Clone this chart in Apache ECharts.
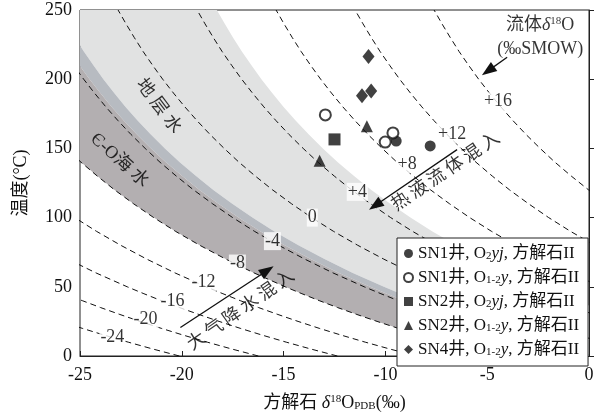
<!DOCTYPE html>
<html><head><meta charset="utf-8">
<script src="https://cdn.jsdelivr.net/npm/echarts/dist/echarts.min.js"></script>
<style>html,body{margin:0;padding:0;background:#fff}#c{width:601px;height:417px}</style>
</head><body><div id="c"></div>
<script>
// ---- data ----
const xTicks = [-25,-20,-15,-10,-5,0];
const yTicks = [0,50,100,150,200,250];

// fluid δ18O (‰SMOW) isolines: [calcite δ18O PDB, temperature °C]
const curveNames = ['-24','-20','-16','-12','-8','-4','0','+4','+8','+12','+16'];
const cM24 = [[-20.12,0],[-21.41,5],[-22.63,10],[-23.79,15],[-24.89,20],[-25.93,25]];
const cM20 = [[-16.24,0],[-17.53,5],[-18.75,10],[-19.91,15],[-21.01,20],[-22.05,25],[-23.04,30],[-23.99,35],[-24.89,40],[-25.74,45]];
const cM16 = [[-12.36,0],[-13.65,5],[-14.87,10],[-16.03,15],[-17.13,20],[-18.17,25],[-19.16,30],[-20.11,35],[-21.01,40],[-21.86,45],[-22.68,50],[-24.21,60],[-25.60,70]];
const cM12 = [[-8.48,0],[-9.77,5],[-10.99,10],[-12.15,15],[-13.25,20],[-14.29,25],[-15.28,30],[-16.23,35],[-17.13,40],[-17.98,45],[-18.80,50],[-20.33,60],[-21.72,70],[-23.00,80],[-24.18,90],[-25.26,100]];
const cM8 = [[-4.60,0],[-5.89,5],[-7.11,10],[-8.27,15],[-9.37,20],[-10.41,25],[-11.40,30],[-12.35,35],[-13.25,40],[-14.10,45],[-14.92,50],[-16.45,60],[-17.84,70],[-19.12,80],[-20.30,90],[-21.38,100],[-22.37,110],[-23.30,120],[-24.15,130],[-24.95,140],[-25.68,150]];
const cM4 = [[-0.72,0],[-2.01,5],[-3.23,10],[-4.39,15],[-5.49,20],[-6.53,25],[-7.52,30],[-8.47,35],[-9.37,40],[-10.22,45],[-11.04,50],[-12.57,60],[-13.96,70],[-15.24,80],[-16.42,90],[-17.50,100],[-18.49,110],[-19.42,120],[-20.27,130],[-21.07,140],[-21.80,150],[-22.49,160],[-23.13,170],[-23.73,180],[-24.29,190],[-24.82,200],[-25.31,210]];
const c0 = [[0.65,10],[-0.51,15],[-1.61,20],[-2.65,25],[-3.64,30],[-4.59,35],[-5.49,40],[-6.34,45],[-7.16,50],[-8.69,60],[-10.08,70],[-11.36,80],[-12.54,90],[-13.62,100],[-14.61,110],[-15.54,120],[-16.39,130],[-17.19,140],[-17.92,150],[-18.61,160],[-19.25,170],[-19.85,180],[-20.41,190],[-20.94,200],[-21.43,210],[-21.90,220],[-22.33,230],[-22.74,240],[-23.13,250]];
const cP4 = [[3.37,15],[2.27,20],[1.23,25],[0.24,30],[-0.71,35],[-1.61,40],[-2.46,45],[-3.28,50],[-4.81,60],[-6.20,70],[-7.48,80],[-8.66,90],[-9.74,100],[-10.73,110],[-11.66,120],[-12.51,130],[-13.31,140],[-14.04,150],[-14.73,160],[-15.37,170],[-15.97,180],[-16.53,190],[-17.06,200],[-17.55,210],[-18.02,220],[-18.45,230],[-18.86,240],[-19.25,250]];
const cP8 = [[1.42,45],[0.60,50],[-0.93,60],[-2.32,70],[-3.60,80],[-4.78,90],[-5.86,100],[-6.85,110],[-7.78,120],[-8.63,130],[-9.43,140],[-10.16,150],[-10.85,160],[-11.49,170],[-12.09,180],[-12.65,190],[-13.18,200],[-13.67,210],[-14.14,220],[-14.57,230],[-14.98,240],[-15.37,250]];
const cP12 = [[1.56,70],[0.28,80],[-0.90,90],[-1.98,100],[-2.97,110],[-3.90,120],[-4.75,130],[-5.55,140],[-6.28,150],[-6.97,160],[-7.61,170],[-8.21,180],[-8.77,190],[-9.30,200],[-9.79,210],[-10.26,220],[-10.69,230],[-11.10,240],[-11.49,250]];
const cP16 = [[0.91,110],[-0.02,120],[-0.87,130],[-1.67,140],[-2.40,150],[-3.09,160],[-3.73,170],[-4.33,180],[-4.89,190],[-5.42,200],[-5.91,210],[-6.38,220],[-6.81,230],[-7.22,240],[-7.61,250]];
const curves = [cM24,cM20,cM16,cM12,cM8,cM4,c0,cP4,cP8,cP12,cP16];
// label anchor of each isoline
const curveLabelPos = [[-23.41,13.5],[-21.78,26.3],[-20.46,39.8],[-18.94,53.3],[-17.27,66.8],[-15.55,83],[-13.59,100],[-11.38,118.6],[-8.93,138.5],[-6.72,160],[-4.47,184]];

// band boundaries
const formationTop = [[3.24,20],[2.20,25],[1.21,30],[0.26,35],[-0.64,40],[-1.49,45],[-2.31,50],[-3.84,60],[-5.23,70],[-6.51,80],[-7.69,90],[-8.77,100],[-9.76,110],[-10.69,120],[-11.54,130],[-12.34,140],[-13.07,150],[-13.76,160],[-14.40,170],[-15.00,180],[-15.56,190],[-16.09,200],[-16.58,210],[-17.05,220],[-17.48,230],[-17.89,240],[-18.28,250]];
const formationBottom = [[0.25,0],[-1.04,5],[-2.26,10],[-3.42,15],[-4.52,20],[-5.56,25],[-6.55,30],[-7.50,35],[-8.40,40],[-9.25,45],[-10.07,50],[-11.60,60],[-12.99,70],[-14.27,80],[-15.45,90],[-16.53,100],[-17.52,110],[-18.45,120],[-19.30,130],[-20.10,140],[-20.83,150],[-21.52,160],[-22.16,170],[-22.76,180],[-23.32,190],[-23.85,200],[-24.34,210],[-24.81,220],[-25.24,230],[-25.65,240],[-26.04,250]];
const seawaterTop = [[-0.43,0],[-1.72,5],[-2.94,10],[-4.10,15],[-5.20,20],[-6.24,25],[-7.23,30],[-8.18,35],[-9.08,40],[-9.93,45],[-10.75,50],[-12.28,60],[-13.67,70],[-14.95,80],[-16.13,90],[-17.21,100],[-18.20,110],[-19.13,120],[-19.98,130],[-20.78,140],[-21.51,150],[-22.20,160],[-22.84,170],[-23.44,180],[-24.00,190],[-24.53,200],[-25.02,210],[-25.49,220],[-25.92,230],[-26.33,240],[-26.72,250]];
const seawaterBottom = cM8;

// samples: [δ18O PDB, T °C]
const seriesNames = ['SN1井, O2yj, 方解石II','SN1井, O1-2y, 方解石II','SN2井, O2yj, 方解石II','SN2井, O1-2y, 方解石II','SN4井, O1-2y, 方解石II'];
const sn1O2yj = [[-9.47,155.3],[-7.80,151.8]];
const sn1O12y = [[-12.95,174.2],[-9.63,161.2],[-10.01,154.6]];
const sn2O2yj = [[-12.50,156.5]];
const sn2O12y = [[-10.91,166],[-13.23,141.1]];
const sn4O12y = [[-10.83,216.4],[-11.15,188],[-10.70,191.5]];

// annotations
const annTexts = ['地 层 水','Є-O海 水','热\u2009液\u2009流\u2009体\u2009混\u2009入','大\u2009气\u2009降\u2009水\u2009混\u2009入','流体{i|δ}{sup|18}O','(‰SMOW)'];
const annPos = [[-21.15,180.4],[-23.06,141.3],[-7.02,132.8],[-17.08,32.7],[-2.40,239.3],[-2.40,221.6]];
const annRot = [-53,-42,34,35,0,0];
const arrows = [
  [[-6.48,149.1],[-10.50,108.7]],
  [[-20.07,20.6],[-15.80,61.8]],
  [[-4.02,215.9],[-4.96,206.0]]
];

// ---- chart ----
const SERIF = "'Liberation Serif','Noto Sans CJK SC',serif";
const chart = echarts.init(document.getElementById('c'), null, {renderer:'canvas'});

function band(upper, lower, color){
  return {type:'custom', coordinateSystem:'cartesian2d', clip:true, silent:true, z:1,
    data:[[-12,125]],
    renderItem:function(params, api){
      const pts = upper.map(p=>api.coord(p)).concat(lower.slice().reverse().map(p=>api.coord(p)));
      return {type:'polygon', shape:{points:pts}, style:{fill:color, stroke:null}};
    }};
}

const series = [];
series.push(band(formationTop, formationBottom, '#e1e2e2'));
series.push(band(formationBottom, seawaterTop, '#b7bbc1'));
series.push(band(seawaterTop, seawaterBottom, '#b3afb1'));

curves.forEach((c,i)=>{
  series.push({type:'line', name:'iso'+curveNames[i], data:c, showSymbol:false, symbol:'none', clip:true, silent:true, z:2,
    lineStyle:{color:'#111', width:1, type:[6,4]}});
});

series.push({type:'scatter', name:'isoLabels', silent:true, z:3, symbolSize:1, itemStyle:{color:'rgba(0,0,0,0)'},
  data: curveLabelPos.map((p,i)=>({value:p, name:curveNames[i]})),
  label:{show:true, position:'inside', formatter:'{b}', color:'#000', textBorderWidth:0, fontFamily:SERIF, fontSize:18,
    backgroundColor:'#fff', padding:[0,1,0,1]}});

const markerDefs = [
  {data:sn1O2yj, symbol:'circle', size:11, style:{color:'#111'}},
  {data:sn1O12y, symbol:'emptyCircle', size:11, style:{color:'#111', borderColor:'#111', borderWidth:1.4}},
  {data:sn2O2yj, symbol:'rect', size:12, style:{color:'#111'}},
  {data:sn2O12y, symbol:'triangle', size:12, style:{color:'#111'}},
  {data:sn4O12y, symbol:'diamond', size:[12,15], style:{color:'#111'}}
];
markerDefs.forEach((m,i)=>{
  series.push({type:'scatter', name:seriesNames[i], data:m.data, symbol:m.symbol, symbolSize:m.size, z:5,
    itemStyle:m.style, emphasis:{disabled:true}});
});

series.push({type:'scatter', name:'annotations', silent:true, z:6, symbolSize:1, itemStyle:{color:'rgba(0,0,0,0)'},
  data: annTexts.map((t,i)=>({value:annPos[i], name:t, label:{rotate:annRot[i]}})),
  label:{show:true, position:'inside', formatter:'{b}', color:'#000', textBorderWidth:0, fontFamily:SERIF, fontSize:18,
    rich:{i:{fontStyle:'italic', fontSize:18, fontFamily:SERIF, color:'#000'},
          sup:{fontSize:11, verticalAlign:'top', fontFamily:SERIF, color:'#000', lineHeight:18}}}
});

series.push({type:'line', name:'arrows', data:[], silent:true, z:6,
  markLine:{silent:true, symbol:['none','triangle'], symbolSize:[11,15], animation:false,
    label:{show:false}, itemStyle:{color:'#111'}, lineStyle:{color:'#111', width:1.3, type:'solid'},
    emphasis:{disabled:true},
    data: arrows.map(a=>[{coord:a[0]},{coord:a[1]}])}
});

const legendRich = ['SN1井, O{s|2}{i|yj}, 方解石II','SN1井, O{s|1-2}{i|y}, 方解石II','SN2井, O{s|2}{i|yj}, 方解石II','SN2井, O{s|1-2}{i|y}, 方解石II','SN4井, O{s|1-2}{i|y}, 方解石II'];

chart.setOption({
  animation:false,
  backgroundColor:'#fff',
  grid:{left:80, right:12, top:10, bottom:55, show:true, borderColor:'#222', borderWidth:1, backgroundColor:'transparent'},
  xAxis:{type:'value', min:xTicks[0], max:xTicks[xTicks.length-1], interval:5,
    name:'方解石 {i|δ}{sup|18}O{sub|PDB}(‰)', nameLocation:'middle', nameGap:38,
    nameTextStyle:{fontFamily:SERIF, fontSize:18, color:'#111',
      rich:{i:{fontStyle:'italic', fontFamily:SERIF, fontSize:18, color:'#111'},
            sup:{fontSize:11, verticalAlign:'top', fontFamily:SERIF, color:'#111', lineHeight:18},
            sub:{fontSize:11, verticalAlign:'bottom', fontFamily:SERIF, color:'#111', lineHeight:14}}},
    axisLine:{lineStyle:{color:'#222', width:1}}, axisTick:{inside:true, length:5, lineStyle:{color:'#222'}},
    axisLabel:{margin:10, fontFamily:SERIF, fontSize:18, color:'#111'}, splitLine:{show:false}},
  yAxis:{type:'value', min:yTicks[0], max:yTicks[yTicks.length-1], interval:50,
    name:'温度(°C)', nameLocation:'middle', nameGap:50, nameRotate:90,
    nameTextStyle:{fontFamily:SERIF, fontSize:18, color:'#111'},
    axisLine:{lineStyle:{color:'#222', width:1}}, axisTick:{inside:true, length:5, lineStyle:{color:'#222'}},
    axisLabel:{margin:8, fontFamily:SERIF, fontSize:18, color:'#111'}, splitLine:{show:false}},
  legend:{data:seriesNames.map(n=>({name:n})), orient:'vertical', left:397, top:238, z:10,
    backgroundColor:'#fff', borderColor:'#222', borderWidth:1, padding:[7,9,8,6],
    itemWidth:9, itemHeight:9, itemGap:7,
    formatter:function(n){return legendRich[seriesNames.indexOf(n)];},
    textStyle:{fontFamily:SERIF, fontSize:17, color:'#111', lineHeight:17,
      rich:{s:{fontSize:11, fontFamily:SERIF, color:'#111', verticalAlign:'bottom', lineHeight:15},
            i:{fontStyle:'italic', fontFamily:SERIF, fontSize:17, color:'#111', lineHeight:17}}}},
  series:series
});
</script></body></html>
